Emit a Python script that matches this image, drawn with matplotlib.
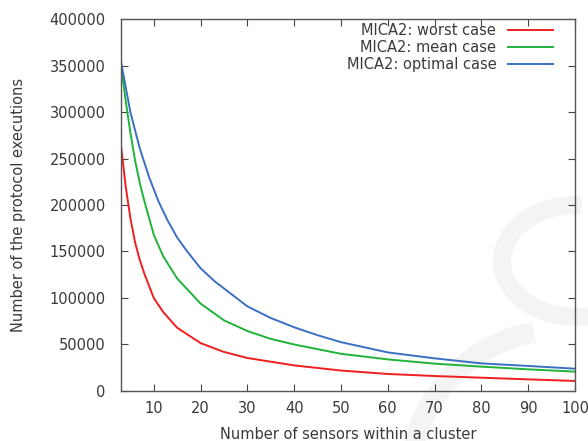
import matplotlib
matplotlib.use("Agg")
import matplotlib.pyplot as plt
from matplotlib.patches import Arc
from matplotlib.transforms import IdentityTransform

# values (number of sensors -> protocol executions)
n_worst = [3, 4, 5, 6, 7, 8, 10, 12, 15, 20, 25, 30, 40, 50, 60, 70, 80, 90, 100]
worst = [264000, 220000, 186000, 160000, 141000, 126000, 100000, 85000, 68000,
         51500, 42000, 35500, 27500, 22000, 18300, 16100, 14300, 12500, 10800]

n_mean = [3, 4, 5, 6, 7, 8, 10, 12, 15, 20, 25, 30, 35, 40, 45, 50, 60, 70, 80, 90, 100]
mean = [350000, 312000, 278000, 248000, 224000, 204000, 168000, 145000, 121000,
        94000, 76000, 64500, 56000, 50000, 45000, 40000, 34000, 29400, 26200,
        23300, 20800]

n_opt = [3, 4, 5, 7, 9, 11, 13, 15, 17, 20, 23, 30, 35, 40, 45, 50, 60, 70, 80, 90, 100]
optimal = [354000, 327000, 300000, 261000, 230000, 204000, 183000, 165000, 151000,
           132000, 118000, 91000, 78500, 68500, 60000, 52500, 41500, 35100, 29700,
           26900, 24000]

labels = ["MICA2: worst case", "MICA2: mean case", "MICA2: optimal case"]
colors = ["#f01e1e", "#1fb33a", "#3a6fc4"]

xticks = list(range(10, 101, 10))
yticks = list(range(0, 400001, 50000))

txt = "#3a3a3a"
plt.rcParams["font.family"] = ["DejaVu Sans"]
plt.rcParams["font.size"] = 10.5

fig = plt.figure(figsize=(5.88, 4.41), dpi=100)

# faint background logo, drawn in pixel space behind everything
wm = "#f4f4f4"
fig.patches.append(Arc((577, 180), 150, 112, theta1=85, theta2=320, lw=13,
                       color=wm, transform=IdentityTransform(), zorder=-5))
fig.patches.append(Arc((560, -39), 300, 300, theta1=100, theta2=185, lw=15,
                       color=wm, transform=IdentityTransform(), zorder=-5))

ax = fig.add_axes([0.2058, 0.1134, 0.772, 0.8435])
ax.patch.set_alpha(0)

for xs, ys, lab, c in zip([n_worst, n_mean, n_opt], [worst, mean, optimal], labels, colors):
    ax.plot(xs, ys, color=c, lw=1.4, label=lab)

ax.set_xlim(3, 100)
ax.set_ylim(0, 400000)
ax.set_xticks(xticks)
ax.set_yticks(yticks)
ax.tick_params(direction="in", length=5, width=0.8, top=True, right=True,
               colors="#444444", labelcolor=txt)
ax.tick_params(axis="x", pad=7)
ax.tick_params(axis="y", pad=11)
for s in ax.spines.values():
    s.set_color("#555555")
    s.set_linewidth(1.0)

ax.set_xlabel("Number of sensors within a cluster", color=txt, labelpad=8)
ax.set_ylabel("Number of the protocol executions", color=txt, labelpad=17)

leg = ax.legend(loc="upper right", bbox_to_anchor=(0.9714, 1.013), frameon=False,
                markerfirst=False, handlelength=3.1, handletextpad=0.8,
                labelspacing=0.15, borderaxespad=0.2, fontsize=10.5)
for t in leg.get_texts():
    t.set_color(txt)

fig.savefig("out.png", dpi=100)
